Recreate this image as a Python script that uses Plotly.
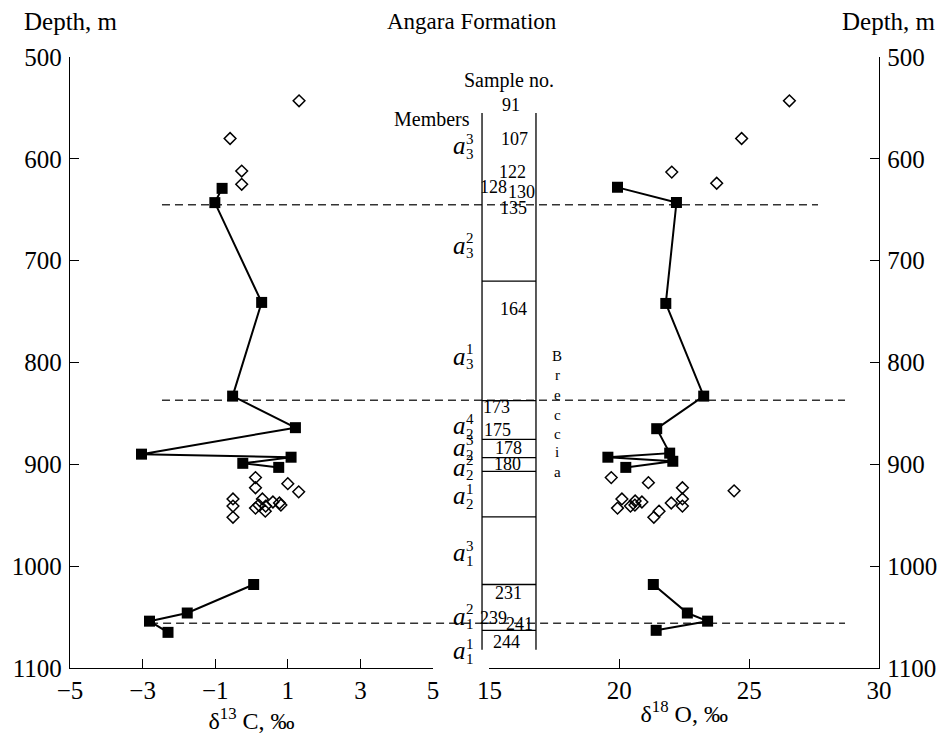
import plotly.graph_objects as go

# ---------------- data ----------------
# delta13C, filled squares (connected), upper and lower groups
c13_sq_depth_upper = [629, 643, 741, 833, 864, 890, 893, 899, 903]
c13_sq_value_upper = [-0.81, -1.01, 0.28, -0.52, 1.21, -3.03, 1.09, -0.24, 0.75]
c13_sq_depth_lower = [1018, 1046, 1054, 1065]
c13_sq_value_lower = [0.06, -1.77, -2.81, -2.30]
# delta13C, open diamonds
c13_dm_depth = [543, 580, 612, 625, 913, 923, 919, 927, 934, 941, 952, 934, 940, 943, 941, 946, 937, 938, 940]
c13_dm_value = [1.31, -0.59, -0.27, -0.27, 0.11, 0.11, 1.00, 1.30, -0.51, -0.51, -0.51, 0.30, 0.20, 0.11, 0.39, 0.38, 0.59, 0.77, 0.81]

# delta18O, filled squares (connected)
o18_sq_depth_upper = [628, 643, 742, 833, 865, 889, 893, 897, 903]
o18_sq_value_upper = [19.93, 22.20, 21.79, 23.25, 21.44, 21.94, 19.56, 22.06, 20.25]
o18_sq_depth_lower = [1018, 1046, 1054, 1063]
o18_sq_value_lower = [21.31, 22.62, 23.40, 21.42]
# delta18O, open diamonds
o18_dm_depth = [543, 580, 613, 624, 913, 918, 923, 926, 934, 943, 941, 936, 940, 937, 946, 952, 938, 934, 941]
o18_dm_value = [26.55, 24.71, 22.02, 23.75, 19.69, 21.12, 22.43, 24.42, 20.10, 19.93, 20.43, 20.61, 20.60, 20.87, 21.53, 21.33, 22.00, 22.43, 22.43]

depth_ticks = [500, 600, 700, 800, 900, 1000, 1100]
c13_ticks = [-5, -3, -1, 1, 3, 5]
o18_ticks = [15, 20, 25, 30]

# stratigraphic column
column_top, column_bottom = 555, 1082
unit_boundaries = [720, 837.5, 875.5, 893.5, 907, 951.5, 1018, 1063]
dashed_boundaries = [645, 837, 1056]

sample_labels = ["91", "107", "122", "128", "130", "135", "164", "173", "175",
                 "178", "180", "231", "239", "241", "244"]
sample_depths = [547, 581, 613, 628, 633, 648, 747, 844, 866, 884, 900, 1026, 1051, 1057, 1074]
sample_xpos = [0.5448, 0.550, 0.547, 0.5229, 0.5583, 0.5476, 0.5476, 0.5274, 0.5282,
               0.5418, 0.5414, 0.5418, 0.5232, 0.5562, 0.5398]

member_sub = ["3", "3", "3", "2", "2", "2", "2", "1", "1", "1"]
member_sup = ["3", "2", "1", "4", "3", "2", "1", "3", "2", "1"]
member_depths = [587, 685, 794, 862, 883, 903, 931, 987, 1049, 1083]

breccia_letters = ["B", "r", "e", "c", "c", "i", "a"]
breccia_depths = [794, 812, 832, 852, 870, 888, 908]

FONT = "Liberation Serif, Times New Roman, serif"

fig = go.Figure()

sq_marker = dict(symbol="square", size=11, color="black")
dm_marker = dict(symbol="diamond-open", size=9, color="black", line=dict(width=1.5, color="black"))
line_style = dict(color="black", width=2)

fig.add_trace(go.Scatter(x=c13_sq_value_upper, y=c13_sq_depth_upper, mode="lines+markers",
                         marker=sq_marker, line=line_style, xaxis="x", yaxis="y", showlegend=False))
fig.add_trace(go.Scatter(x=c13_sq_value_lower, y=c13_sq_depth_lower, mode="lines+markers",
                         marker=sq_marker, line=line_style, xaxis="x", yaxis="y", showlegend=False))
fig.add_trace(go.Scatter(x=c13_dm_value, y=c13_dm_depth, mode="markers",
                         marker=dm_marker, xaxis="x", yaxis="y", showlegend=False))

fig.add_trace(go.Scatter(x=o18_sq_value_upper, y=o18_sq_depth_upper, mode="lines+markers",
                         marker=sq_marker, line=line_style, xaxis="x2", yaxis="y", showlegend=False))
fig.add_trace(go.Scatter(x=o18_sq_value_lower, y=o18_sq_depth_lower, mode="lines+markers",
                         marker=sq_marker, line=line_style, xaxis="x2", yaxis="y", showlegend=False))
fig.add_trace(go.Scatter(x=o18_dm_value, y=o18_dm_depth, mode="markers",
                         marker=dm_marker, xaxis="x2", yaxis="y", showlegend=False))
# invisible trace to activate the right depth axis
fig.add_trace(go.Scatter(x=[None], y=[None], xaxis="x2", yaxis="y2", showlegend=False,
                         hoverinfo="skip"))

shapes = []
col_x0, col_x1 = 0.5093, 0.576
for xx in (col_x0, col_x1):
    shapes.append(dict(type="line", xref="paper", yref="y", x0=xx, x1=xx,
                       y0=column_top, y1=column_bottom, line=dict(color="black", width=1.3)))
for d in unit_boundaries:
    shapes.append(dict(type="line", xref="paper", yref="y", x0=col_x0, x1=col_x1,
                       y0=d, y1=d, line=dict(color="black", width=1.3)))
dash_extent = [(0.1137, 0.9246), (0.1137, 0.958), (0.099, 0.958)]
for d, (a, b) in zip(dashed_boundaries, dash_extent):
    shapes.append(dict(type="line", xref="paper", yref="y", x0=a, x1=b, y0=d, y1=d,
                       line=dict(color="#333", width=1.5, dash="8px,5px"), layer="below"))

ann = []
def txt(x, y, s, size=17, xanchor="center", yref="y", italic=False, yshift=0):
    ann.append(dict(x=x, y=y, xref="paper", yref=yref, text=s, showarrow=False,
                    xanchor=xanchor, yanchor="middle", yshift=yshift,
                    font=dict(family=FONT, size=size, color="black",
                              style="italic" if italic else "normal")))

for s, d, xp in zip(sample_labels, sample_depths, sample_xpos):
    txt(xp, d, s, size=18)

txt(0.5426, 523, "Sample no.", size=20)
txt(0.4965, 561, "Members", size=20, xanchor="right")

a_x = (459.7 - 70) / 809
digit_x = (469.5 - 70) / 809
for sub, sup, d in zip(member_sub, member_sup, member_depths):
    txt(a_x, d, "a", size=25, italic=True)
    txt(digit_x, d, sup, size=15, yshift=7)
    txt(digit_x, d, sub, size=15, yshift=-8)

for ch, d in zip(breccia_letters, breccia_depths):
    txt(0.6025, d, ch, size=15)

txt((22 - 70) / 809, 1.0589, "Depth, m", size=25, xanchor="left", yref="paper")
txt(0.4975, 1.0589, "Angara Formation", size=23, yref="paper")
txt((938 - 70) / 809, 1.0589, "Depth, m", size=25, xanchor="right", yref="paper")

axis_common = dict(showline=True, linecolor="black", linewidth=1.3, ticks="inside",
                   ticklen=9, tickcolor="black", tickwidth=1.3, showgrid=False, zeroline=False,
                   automargin=False,
                   tickfont=dict(family=FONT, size=25, color="black"))

# page body has an 8px margin, so the figure is 8px smaller and offset accordingly
fig.update_layout(
    width=937, height=733,
    margin=dict(l=62, r=66, t=49, b=73),
    paper_bgcolor="white", plot_bgcolor="white",
    font=dict(family=FONT, color="black"),
    xaxis=dict(domain=[0, 0.4487], range=[-5, 5], tickvals=c13_ticks, anchor="y",
               title=dict(text="δ<sup>13</sup> C, ‰", font=dict(family=FONT, size=24), standoff=2),
               **axis_common),
    xaxis2=dict(domain=[0.5185, 1], range=[15, 30], tickvals=o18_ticks, anchor="y",
                title=dict(text="δ<sup>18</sup> O, ‰", font=dict(family=FONT, size=24), standoff=2),
                **axis_common),
    yaxis=dict(range=[1100, 500], tickvals=depth_ticks, anchor="x", side="left",
               ticklabelstandoff=2, **axis_common),
    yaxis2=dict(range=[1100, 500], tickvals=depth_ticks, overlaying="y", side="right",
                anchor="x2", ticklabelstandoff=2, **axis_common),
    shapes=shapes, annotations=ann,
)

fig.write_html("out.html")
